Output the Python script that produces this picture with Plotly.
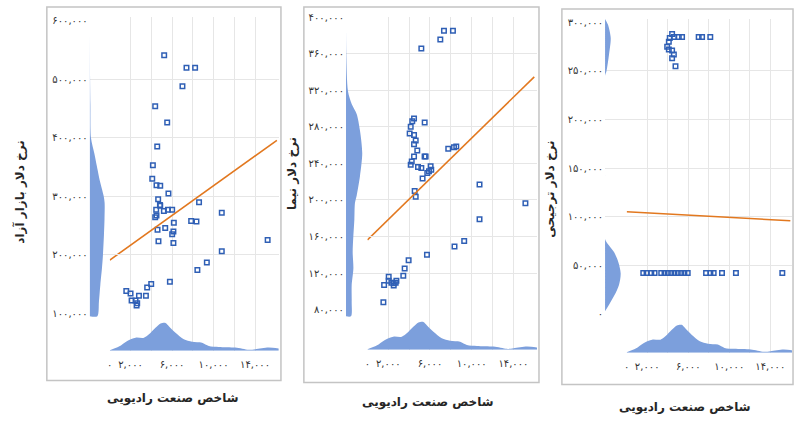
import plotly.graph_objects as go

# ---------------- data ----------------
# Panel 1: radio industry index vs free-market dollar rate
p1_x = [5240, 7390, 8220, 7000, 4375, 5530, 4570, 4150, 4090, 4500, 4860, 5650, 4660, 8600, 4830,
        4470, 4860, 5210, 5600, 6010, 10790, 4375, 4500, 7840, 8350, 6170, 4600, 5340, 6130, 6010,
        4690, 6130, 15210, 10790, 9350, 8440, 5790, 3990, 3600, 3480, 1590, 2000, 2810, 2100, 2480,
        2640, 2580]
p1_y = [541000, 520000, 520000, 488000, 454000, 426000, 385000, 353000, 330000, 319000, 318000,
        305000, 295000, 290000, 285000, 277000, 284000, 275000, 277000, 277000, 272000, 264000,
        267000, 258000, 257000, 255000, 243000, 246000, 240000, 235000, 223000, 220000, 225500,
        206000, 187000, 174000, 154000, 150000, 144000, 130000, 138000, 134000, 130000, 122000,
        122000, 117000, 113500]
t1_x = [0, 16100]
t1_y = [191000, 395600]
dens1_y = [95000, 95100, 120000, 148500, 176500, 199000, 233000, 261000, 289000, 301000, 328000,
           345000, 373000, 400000, 458000, 520000, 580000]
dens1_w = [0, 7.7, 9.3, 10.7, 12.3, 13.3, 14.3, 14.9, 15, 14, 10, 8, 4.7, 1.3, 0.7, 0.3, 0]

# Panel 2: radio industry index vs NIMA dollar rate
p2_x = [7340, 8200, 6990, 5170, 4470, 4300, 5490, 4150, 4050, 4470, 4630, 4470, 4780, 7750, 8300,
        8520, 4470, 5480, 5580, 4250, 4150, 4850, 5170, 6060, 6120, 5900, 5740, 5290, 10750, 4530,
        4630, 15150, 10750, 8350, 9280, 5710, 3950, 3570, 3440, 2780, 2710, 2520, 2520, 2300, 2040,
        2040, 1600, 1530]
p2_y = [385200, 385200, 375500, 365700, 289000, 286000, 284600, 280000, 272800, 271000, 265000,
        260900, 254000, 256000, 257600, 258400, 247600, 247600, 247600, 242000, 238500, 236000,
        235000, 236800, 233000, 231400, 229500, 223400, 216900, 209700, 203600, 196300, 179000,
        149000, 155000, 140000, 134000, 125000, 117000, 111700, 109500, 108800, 106300, 109500,
        116000, 111700, 107000, 88000]
t2_x = [0, 16000]
t2_y = [156300, 334700]
dens2_y = [72700, 72800, 89000, 107000, 125000, 143000, 161000, 179000, 197000, 204600, 226000,
           251000, 276000, 294000, 305000, 319000, 359000, 403000]
dens2_w = [0, 5, 5.7, 5.7, 7.4, 6.7, 7.4, 8.4, 9, 10.7, 14, 16.3, 14, 10.7, 5.7, 2, 0.3, 0]

# Panel 3: radio industry index vs preferential dollar rate
p3_x = [4430, 4600, 5080, 5400, 7020, 7350, 8150, 4200, 4110, 3950, 4110, 4430, 4600, 4430, 4760,
        1620, 1940, 2400, 2720, 3370, 3690, 4010, 4340, 4660, 4980, 5310, 5630, 5950, 7740, 8160,
        8480, 9290, 10650, 15170]
p3_y = [288000, 285000, 285000, 285000, 285000, 285000, 285000, 284000, 280000, 275000, 272000,
        271000, 267000, 263000, 255000,
        42000, 42000, 42000, 42000, 42000, 42000, 42000, 42000, 42000, 42000, 42000, 42000, 42000,
        42000, 42000, 42000, 42000, 42000, 42000]
t3_x = [0, 15950]
t3_y = [105000, 95800]
dens3_y = [2500, 9300, 19500, 29700, 41500, 53400, 63500, 70300, 77000, 245000, 250000, 267000,
           284000, 297500, 303600]
dens3_w = [0, 4, 9.7, 14, 15.7, 13.3, 9, 4, 0, 0, 1.5, 4, 5.7, 3, 0]

# Distribution of the radio industry index (shared by all panels)
bx = [0, 880, 1680, 2480, 3290, 3770, 4400, 4890, 5370, 5690, 6330, 7130, 7930, 8890, 9540,
      10500, 12100, 13380, 14020, 15300, 16270]
bh = [0.7, 4.3, 10, 13.3, 13.3, 16.7, 23.3, 27.7, 28.3, 25, 18.3, 11.7, 9.3, 8.3, 5, 4, 3.3,
      1, 1.7, 3.3, 2.3]

# ticks
x_ticks = [0, 2000, 6000, 10000, 14000]
x_labels = ['۰', '۲,۰۰۰', '۶,۰۰۰', '۱۰,۰۰۰', '۱۴,۰۰۰']
x_grid = [2000, 4000, 6000, 8000, 10000, 12000, 14000]

y1_ticks = [100000, 200000, 300000, 400000, 500000, 600000]
y1_labels = ['۱۰۰,۰۰۰', '۲۰۰,۰۰۰', '۳۰۰,۰۰۰', '۴۰۰,۰۰۰', '۵۰۰,۰۰۰', '۶۰۰,۰۰۰']
y1_grid = [200000, 300000, 400000, 500000]

y2_ticks = [80000, 120000, 160000, 200000, 240000, 280000, 320000, 360000, 400000]
y2_labels = ['۸۰,۰۰۰', '۱۲۰,۰۰۰', '۱۶۰,۰۰۰', '۲۰۰,۰۰۰', '۲۴۰,۰۰۰', '۲۸۰,۰۰۰', '۳۲۰,۰۰۰',
             '۳۶۰,۰۰۰', '۴۰۰,۰۰۰']
y2_grid = [120000, 160000, 200000, 240000, 280000, 320000, 360000]

y3_ticks = [0, 50000, 100000, 150000, 200000, 250000, 300000]
y3_labels = ['۰', '۵۰,۰۰۰', '۱۰۰,۰۰۰', '۱۵۰,۰۰۰', '۲۰۰,۰۰۰', '۲۵۰,۰۰۰', '۳۰۰,۰۰۰']
y3_grid = [50000, 100000, 150000, 200000, 250000]

x_title = 'شاخص صنعت رادیویی'
y_titles = ['نرخ دلار بازار آزاد', 'نرخ دلار نیما', 'نرخ دلار ترجیحی']

# ---------------- styling / layout ----------------
W, H = 800, 421
FONT = 'DejaVu Sans'
BLUE = '#2f5fb5'
DENS = '#7c9fdc'
ORANGE = '#e2781f'
GRID = '#e6e6e6'
TF = dict(family=FONT, size=10, color='#333333')


def fx(v):
    return v / W


def fy(v):
    return 1 - v / H


def aid(n, k):
    return k if n == 1 else f'{k}{n}'


def lkey(n, k):
    return f'{k}axis' if n == 1 else f'{k}axis{n}'


panels = [
    dict(xs=p1_x, ys=p1_y, tx=t1_x, ty=t1_y, dy=dens1_y, dw=dens1_w,
         yt=y1_ticks, yl=y1_labels, yg=y1_grid,
         x0=107.2, x1=277, xr=[0, 16300], ytop=12, ybot=350, yr=[35800, 606800], base=87,
         frame=(44, 2, 279, 380), ypos=(17, 189), xpos=(171, 398)),
    dict(xs=p2_x, ys=p2_y, tx=t2_x, ty=t2_y, dy=dens2_y, dw=dens2_w,
         yt=y2_ticks, yl=y2_labels, yg=y2_grid,
         x0=365.8, x1=536, xr=[0, 16260], ytop=12, ybot=349, yr=[36000, 400300], base=344.3,
         frame=(302, 2, 538, 382), ypos=(290, 170), xpos=(427, 402)),
    dict(xs=p3_x, ys=p3_y, tx=t3_x, ty=t3_y, dy=dens3_y, dw=dens3_w,
         yt=y3_ticks, yl=y3_labels, yg=y3_grid,
         x0=626, x1=792, xr=[0, 16117], ytop=14, ybot=352, yr=[-40200, 303700], base=604.3,
         frame=(561, 4, 793, 384), ypos=(549, 186), xpos=(685, 407)),
]

fig = go.Figure()
layout = dict(width=W, height=H, margin=dict(l=0, r=0, t=0, b=0), autosize=False,
              paper_bgcolor='white', plot_bgcolor='rgba(0,0,0,0)', showlegend=False,
              shapes=[], annotations=[])

for i, p in enumerate(panels):
    mx, dxn = 2 * i + 1, 2 * i + 2   # main x, left-density x
    my, dyn = 2 * i + 1, 2 * i + 2   # main y, bottom-density y

    # left density (distribution of y)
    fig.add_trace(go.Scatter(x=p['dw'], y=p['dy'], xaxis=aid(dxn, 'x'), yaxis=aid(my, 'y'),
                             mode='lines', fill='tozerox', fillcolor=DENS,
                             line=dict(width=0, shape='spline', smoothing=0.8, color=DENS),
                             hoverinfo='skip'))
    # bottom density (distribution of x)
    fig.add_trace(go.Scatter(x=bx, y=bh, xaxis=aid(mx, 'x'), yaxis=aid(dyn, 'y'),
                             mode='lines', fill='tozeroy', fillcolor=DENS,
                             line=dict(width=0, shape='spline', smoothing=0.8, color=DENS),
                             hoverinfo='skip'))
    # scatter points
    fig.add_trace(go.Scatter(x=p['xs'], y=p['ys'], xaxis=aid(mx, 'x'), yaxis=aid(my, 'y'),
                             mode='markers',
                             marker=dict(symbol='square-open', size=4.5, color=BLUE,
                                         line=dict(width=1.5, color=BLUE))))
    # trend line
    fig.add_trace(go.Scatter(x=p['tx'], y=p['ty'], xaxis=aid(mx, 'x'), yaxis=aid(my, 'y'),
                             mode='lines', line=dict(color=ORANGE, width=1.6)))

    layout[lkey(mx, 'x')] = dict(
        domain=[fx(p['x0']), fx(p['x1'])], range=p['xr'], anchor=aid(my, 'y'),
        tickmode='array', tickvals=x_ticks, ticktext=x_labels, showgrid=False,
        zeroline=False, showline=False, ticks='', tickfont=TF, ticklabelstandoff=6,
        minor=dict(tickmode='array', tickvals=x_grid, showgrid=True, gridcolor=GRID,
                   gridwidth=1, ticks=''))
    layout[lkey(my, 'y')] = dict(
        domain=[fy(p['ybot']), fy(p['ytop'])], range=p['yr'], anchor='free',
        position=fx(p['base']), tickmode='array', tickvals=p['yt'], ticktext=p['yl'],
        showgrid=False, zeroline=False, showline=False, ticks='', tickfont=TF,
        ticklabelstandoff=2,
        minor=dict(tickmode='array', tickvals=p['yg'], showgrid=True, gridcolor=GRID,
                   gridwidth=1, ticks=''))
    layout[lkey(dxn, 'x')] = dict(domain=[fx(p['base']), fx(p['base'] + 30)], range=[0, 30],
                                  anchor=aid(my, 'y'), visible=False)
    layout[lkey(dyn, 'y')] = dict(domain=[fy(p['ybot']), fy(p['ybot'] - 30)], range=[0, 30],
                                  anchor=aid(mx, 'x'), visible=False)

    x0, y0, x1, y1 = p['frame']
    layout['shapes'].append(dict(type='rect', xref='paper', yref='paper',
                                 x0=fx(x0), x1=fx(x1), y0=fy(y1), y1=fy(y0),
                                 line=dict(color='#c4c4c4', width=1.5)))
    layout['annotations'].append(dict(text='<b>' + y_titles[i] + '</b>', xref='paper',
                                      yref='paper', x=fx(p['ypos'][0]), y=fy(p['ypos'][1]),
                                      textangle=-90, showarrow=False, xanchor='center',
                                      yanchor='middle',
                                      font=dict(family=FONT, size=12, color='#262626')))
    layout['annotations'].append(dict(text='<b>' + x_title + '</b>', xref='paper',
                                      yref='paper', x=fx(p['xpos'][0]), y=fy(p['xpos'][1]),
                                      showarrow=False, xanchor='center', yanchor='middle',
                                      font=dict(family=FONT, size=12, color='#262626')))

fig.update_layout(**layout)
fig.write_html('out.html', config={'displayModeBar': False},
               post_script="document.body.style.margin='0';document.body.style.overflow='hidden';")
